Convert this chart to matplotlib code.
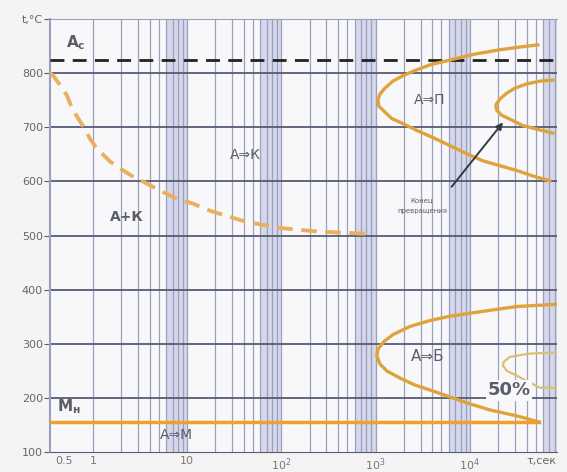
import numpy as np
import matplotlib.pyplot as plt

# Диаграмма изотермического распада аустенита
# время, с (лог. шкала) / температура, °C
ac_temp = 825
ms_temp = 155
ms_tau = [0.35, 54000]

# граница А+К (пунктир)
ak_tau = [0.35, 0.376, 0.447, 0.53, 0.60, 0.728, 0.822, 0.929, 1.10, 1.515, 1.934, 2.66, 3.74,
          5.14, 7.79, 11.5, 17.4, 26.4, 43.1, 96.4, 256, 912]
ak_temp = [800, 796, 778, 759, 735, 711, 698, 679, 661, 637, 624, 609, 596,
           583, 568, 559, 546, 536, 525, 514, 507, 503]

# начало перлитного превращения
p_start_tau = [52670, 33930, 20810, 11300, 6135, 3763, 2740, 1994, 1524, 1254, 1110, 1057,
               1083, 1254, 1487, 2043, 2740, 4050, 6135, 9295, 13740, 20810, 31520, 46600, 70600]
p_start_temp = [852, 848, 843, 835, 824, 815, 806, 796, 785, 772, 761, 750,
                739, 728, 716, 705, 694, 681, 666, 651, 638, 629, 620, 610, 601]

# конец перлитного превращения
p_end_tau = [75960, 55300, 40250, 30030, 24700, 20810, 18880, 19340, 21850, 27900, 36500, 52670, 75960]
p_end_temp = [787, 785, 780, 772, 763, 752, 741, 731, 722, 713, 703, 696, 689]

# начало бейнитного превращения
b_start_tau = [83700, 31520, 13740, 6135, 3763, 2308, 1524, 1223, 1057, 1031, 1110, 1316, 1808,
               2609, 4050, 6135, 9295, 16300, 31520, 53970]
b_start_temp = [373, 369, 360, 351, 343, 332, 317, 304, 290, 278, 263, 250, 237,
                224, 213, 202, 191, 178, 167, 156]

# 50 % превращения
b_half_tau = [83700, 43300, 26570, 22950, 22400, 24700, 30030, 55300, 83700]
b_half_temp = [284, 282, 276, 267, 260, 250, 243, 219, 219]

y_ticks = [100, 200, 300, 400, 500, 600, 700, 800, 900]
y_labels = ['100', '200', '300', '400', '500', '600', '700', '800', 't,°C']
x_ticks = [0.5, 1, 10, 100, 1000, 10000]
x_labels = ['0.5', '1', '10', r'$10^2$', r'$10^3$', r'$10^4$']

orange = '#e0a33c'
grid_h = '#555b72'
grid_v = '#9aa0bc'
txt = '#5a5e6a'

fig = plt.figure(figsize=(5.67, 4.72), dpi=100, facecolor='#f4f4f4')
ax = fig.add_axes([0.088, 0.042, 0.894, 0.918])
ax.set_facecolor('#f8f8fb')
ax.set_xscale('log')
ax.set_xlim(0.35, 83700)
ax.set_ylim(100, 900)

# затемнённые полосы в конце каждой декады
for k in range(5):
    ax.axvspan(10 ** (k + 0.78), 10 ** (k + 1), color='#cdd0e6', alpha=0.8, lw=0, zorder=0)

# вертикальная сетка
for k in range(5):
    for m in range(1, 10):
        ax.axvline(m * 10 ** k, color=grid_v, lw=0.9, zorder=1)
# горизонтальная сетка
for t in range(200, 900, 100):
    ax.axhline(t, color=grid_h, lw=1.3, zorder=1)

# Ac и Mн
ax.axhline(ac_temp, color='#222222', lw=2, dashes=(5, 3), zorder=3)
ax.plot(ms_tau, [ms_temp, ms_temp], color='#f2a02a', lw=2.5, zorder=3)

# кривые
ax.plot(ak_tau, ak_temp, color='#e9b060', lw=2.8, dashes=(4, 2.2), zorder=3)
ax.plot(p_start_tau, p_start_temp, color=orange, lw=2.4, zorder=3)
ax.plot(p_end_tau, p_end_temp, color=orange, lw=2.4, zorder=3)
ax.plot(b_start_tau, b_start_temp, color=orange, lw=2.4, zorder=3)
ax.plot(b_half_tau, b_half_temp, color='#dcc070', lw=1.6, zorder=3)

# подписи
ax.text(0.52, 848, r'A$_\mathregular{c}$', fontsize=11, color=txt, fontweight='bold', zorder=5)
ax.text(0.42, 175, r'M$_\mathregular{н}$', fontsize=11, color=txt, fontweight='bold', zorder=5)
ax.text(7.8, 132, 'А⇒М', fontsize=10, color=txt, ha='center', va='center', zorder=5)
ax.text(41, 648, 'А⇒К', fontsize=10, color=txt, ha='center', va='center', zorder=5)
ax.text(2.3, 534, 'А+К', fontsize=10, color=txt, ha='center', va='center', fontweight='bold', zorder=5)
ax.text(3770, 750, 'А⇒П', fontsize=10, color=txt, ha='center', va='center', zorder=5)
ax.text(3600, 276, 'А⇒Б', fontsize=11, color=txt, ha='center', va='center', zorder=5)
ax.text(26000, 214, '50%', fontsize=13, color=txt, ha='center', va='center', fontweight='bold',
        bbox=dict(boxstyle='square,pad=0.1', fc='#f8f8fb', ec='none'), zorder=5)
ax.text(3100, 566, 'Конец', fontsize=5, color=txt, ha='center', va='center', zorder=5)
ax.text(3100, 545, 'превращения', fontsize=5, color=txt, ha='center', va='center', zorder=5)
ax.annotate('', xy=(23500, 713), xytext=(6140, 586),
            arrowprops=dict(arrowstyle='-|>', color='#333a4a', lw=1.4, mutation_scale=10), zorder=6)

# оси
ax.set_yticks(y_ticks)
ax.set_yticklabels(y_labels)
ax.set_xticks(x_ticks)
ax.set_xticklabels(x_labels)
ax.minorticks_off()
ax.tick_params(axis='y', length=4, color=grid_h, labelsize=8, labelcolor='#666666', pad=1)
ax.tick_params(axis='x', length=0, labelsize=8, labelcolor='#777777', pad=3)
ax.text(1.0, -0.008, 'τ,сек', transform=ax.transAxes, ha='right', va='top',
        fontsize=8, color='#666666')

for s in ['top', 'right']:
    ax.spines[s].set_color(grid_v)
ax.spines['left'].set_color(grid_v)
ax.spines['left'].set_linewidth(1.5)
ax.spines['bottom'].set_color(grid_h)
ax.spines['right'].set_visible(False)

fig.savefig('out.png', dpi=100, facecolor=fig.get_facecolor())
